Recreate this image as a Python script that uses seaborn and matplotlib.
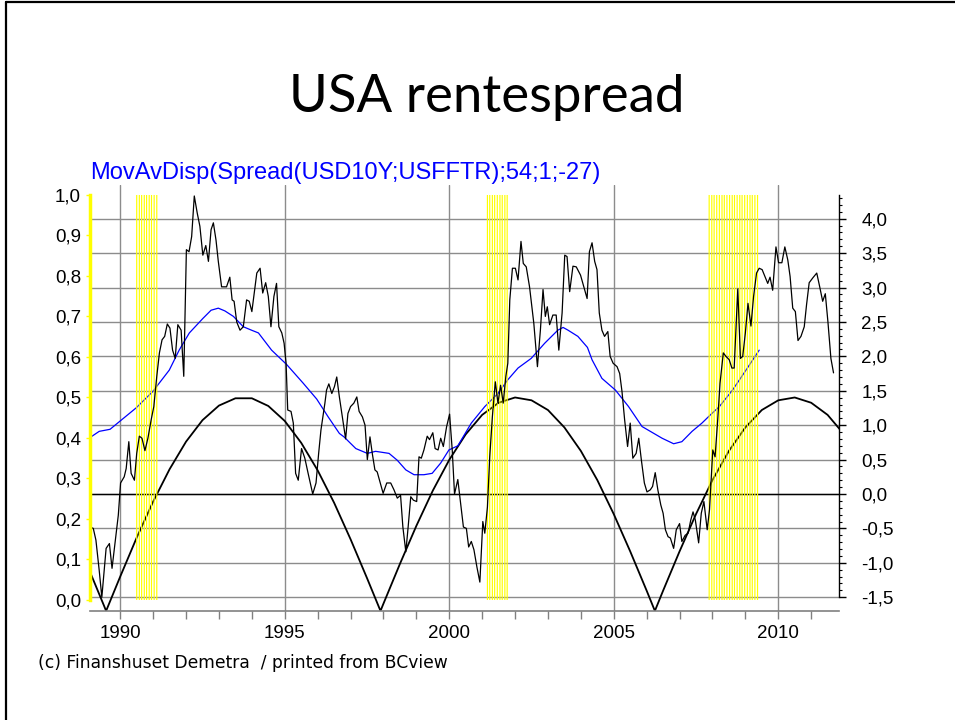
import matplotlib
matplotlib.use("Agg")
import matplotlib.pyplot as plt
import matplotlib.transforms as mtransforms
from matplotlib.lines import Line2D
from matplotlib.ticker import MultipleLocator, FixedLocator, FuncFormatter
import numpy as np
import pandas as pd
import seaborn as sns

# Rentespread (USD10Y - USFFTR), højre akse
spread_years = [
    1989.08, 1989.18, 1989.26, 1989.36, 1989.44, 1989.57, 1989.67, 1989.75, 1989.85, 1989.94,
    1990.01, 1990.12, 1990.18, 1990.26, 1990.33, 1990.43, 1990.50, 1990.58, 1990.66, 1990.75,
    1990.84, 1990.94, 1991.02, 1991.11, 1991.19, 1991.27, 1991.35, 1991.43, 1991.51, 1991.59,
    1991.67, 1991.75, 1991.85, 1991.93, 1992.01, 1992.09, 1992.17, 1992.25, 1992.34, 1992.42,
    1992.51, 1992.60, 1992.68, 1992.76, 1992.83, 1992.91, 1992.98, 1993.08, 1993.23, 1993.33,
    1993.40, 1993.46, 1993.54, 1993.64, 1993.74, 1993.84, 1993.92, 1994.00, 1994.15, 1994.25,
    1994.33, 1994.42, 1994.50, 1994.58, 1994.67, 1994.75, 1994.82, 1994.91, 1994.98, 1995.04,
    1995.09, 1995.19, 1995.26, 1995.33, 1995.41, 1995.51, 1995.61, 1995.71, 1995.85, 1995.95,
    1996.03, 1996.10, 1996.22, 1996.27, 1996.34, 1996.43, 1996.51, 1996.58, 1996.66, 1996.75,
    1996.85, 1996.92, 1997.00, 1997.10, 1997.19, 1997.26, 1997.36, 1997.44, 1997.51, 1997.59,
    1997.66, 1997.74, 1997.81, 1997.92, 1997.99, 1998.10, 1998.22, 1998.32, 1998.42, 1998.52,
    1998.59, 1998.68, 1998.75, 1998.83, 1998.91, 1999.01, 1999.08, 1999.15, 1999.23, 1999.33,
    1999.40, 1999.50, 1999.57, 1999.66, 1999.74, 1999.82, 1999.92, 2000.01, 2000.09, 2000.16,
    2000.26, 2000.35, 2000.43, 2000.52, 2000.59, 2000.67, 2000.75, 2000.84, 2000.93, 2001.02,
    2001.08, 2001.16, 2001.23, 2001.31, 2001.40, 2001.48, 2001.56, 2001.64, 2001.72, 2001.78,
    2001.84, 2001.92, 2002.01, 2002.09, 2002.18, 2002.25, 2002.34, 2002.44, 2002.57, 2002.68,
    2002.77, 2002.85, 2002.92, 2002.98, 2003.05, 2003.15, 2003.25, 2003.33, 2003.43, 2003.51,
    2003.58, 2003.66, 2003.76, 2003.86, 2003.99, 2004.09, 2004.19, 2004.26, 2004.34, 2004.42,
    2004.49, 2004.56, 2004.64, 2004.72, 2004.82, 2004.89, 2004.98, 2005.10, 2005.18, 2005.25,
    2005.33, 2005.42, 2005.50, 2005.58, 2005.68, 2005.76, 2005.84, 2005.93, 2006.01, 2006.11,
    2006.18, 2006.26, 2006.34, 2006.43, 2006.50, 2006.57, 2006.65, 2006.72, 2006.82, 2006.90,
    2007.00, 2007.07, 2007.17, 2007.26, 2007.34, 2007.41, 2007.48, 2007.58, 2007.66, 2007.74,
    2007.84, 2007.91, 2008.01, 2008.08, 2008.16, 2008.23, 2008.33, 2008.41, 2008.51, 2008.59,
    2008.66, 2008.77, 2008.85, 2008.92, 2009.00, 2009.08, 2009.17, 2009.25, 2009.34, 2009.42,
    2009.51, 2009.61, 2009.68, 2009.75, 2009.83, 2009.93, 2010.01, 2010.11, 2010.20, 2010.29,
    2010.36, 2010.44, 2010.52, 2010.60, 2010.69, 2010.79, 2010.86, 2010.94, 2011.05, 2011.17,
    2011.26, 2011.35, 2011.43, 2011.51, 2011.60, 2011.68,
]
spread_values = [
    -0.48, -0.50, -0.67, -1.11, -1.50, -0.79, -0.72, -1.08, -0.67, -0.31,
    0.16, 0.25, 0.37, 0.76, 0.30, 0.20, 0.59, 0.84, 0.81, 0.63,
    0.81, 1.08, 1.27, 1.71, 2.05, 2.24, 2.29, 2.47, 2.41, 2.09,
    1.97, 2.46, 2.38, 1.71, 3.55, 3.52, 3.74, 4.33, 4.08, 3.89,
    3.47, 3.61, 3.38, 3.84, 3.94, 3.69, 3.38, 3.01, 3.01, 3.15,
    2.82, 2.80, 2.50, 2.38, 2.43, 2.82, 2.80, 2.65, 3.21, 3.28,
    2.92, 3.07, 2.87, 2.43, 2.87, 3.06, 2.43, 2.34, 2.19, 1.90,
    1.22, 1.20, 1.03, 0.30, 0.20, 0.66, 0.52, 0.30, 0.00, 0.16,
    0.59, 0.93, 1.32, 1.51, 1.60, 1.46, 1.56, 1.70, 1.41, 1.12,
    0.80, 1.17, 1.27, 1.32, 1.41, 1.20, 1.12, 1.00, 0.50, 0.83,
    0.59, 0.35, 0.32, 0.13, 0.01, 0.16, 0.16, 0.06, -0.06, -0.02,
    -0.48, -0.84, -0.48, -0.04, -0.09, -0.11, 0.54, 0.52, 0.64, 0.84,
    0.79, 0.89, 0.66, 0.64, 0.81, 0.69, 0.98, 1.16, 0.64, 0.00,
    0.21, -0.16, -0.48, -0.50, -0.77, -0.69, -0.81, -1.06, -1.28, -0.40,
    -0.57, -0.19, 0.54, 1.12, 1.63, 1.32, 1.58, 1.32, 1.71, 1.90,
    2.82, 3.28, 3.28, 3.11, 3.67, 3.35, 3.30, 3.01, 2.48, 1.85,
    2.38, 2.97, 2.58, 2.72, 2.46, 2.60, 2.60, 2.09, 2.63, 3.47,
    3.45, 2.94, 3.31, 3.30, 3.18, 3.01, 2.84, 3.52, 3.65, 3.38,
    3.26, 2.63, 2.38, 2.29, 2.36, 2.00, 1.90, 1.85, 1.75, 1.49,
    1.08, 0.69, 1.03, 0.52, 0.59, 0.81, 0.49, 0.16, 0.03, 0.06,
    0.11, 0.31, 0.06, -0.16, -0.28, -0.52, -0.62, -0.64, -0.79, -0.52,
    -0.43, -0.69, -0.60, -0.57, -0.38, -0.26, -0.38, -0.71, -0.28, -0.11,
    -0.52, -0.23, 0.64, 0.54, 1.08, 1.61, 2.05, 2.00, 1.95, 1.83,
    1.83, 2.98, 1.97, 2.00, 2.34, 2.77, 2.44, 2.87, 3.21, 3.28,
    3.26, 3.14, 3.06, 3.15, 2.96, 3.59, 3.36, 3.36, 3.59, 3.40,
    3.16, 2.70, 2.65, 2.23, 2.29, 2.43, 2.75, 3.07, 3.14, 3.21,
    3.01, 2.80, 2.91, 2.50, 1.97, 1.76,
]

# MovAvDisp (blå), højre akse
ma_years = [
    1989.08, 1989.36, 1989.69, 1989.97, 1990.48, 1990.99, 1991.49, 1991.79, 1992.10, 1992.51,
    1992.76, 1992.98, 1993.18, 1993.44, 1993.74, 1993.99, 1994.20, 1994.60, 1995.06, 1995.56,
    1995.97, 1996.32, 1996.66, 1996.80, 1997.16, 1997.51, 1997.76, 1998.17, 1998.42, 1998.68,
    1998.93, 1999.23, 1999.48, 1999.74, 1999.99, 2000.26, 2000.67, 2001.08, 2001.48, 2001.78,
    2002.09, 2002.49, 2002.90, 2003.30, 2003.46, 2003.61, 2003.91, 2004.20, 2004.34, 2004.64,
    2005.05, 2005.45, 2005.86, 2006.47, 2006.82, 2007.07, 2007.38, 2007.68, 2007.96, 2008.21,
    2008.61, 2009.02, 2009.42,
]
ma_values = [
    0.82, 0.91, 0.94, 1.05, 1.25, 1.49, 1.80, 2.09, 2.34, 2.55,
    2.67, 2.70, 2.66, 2.58, 2.43, 2.38, 2.34, 2.09, 1.88, 1.61,
    1.38, 1.12, 0.88, 0.83, 0.66, 0.59, 0.62, 0.59, 0.49, 0.35,
    0.28, 0.28, 0.30, 0.45, 0.64, 0.70, 1.03, 1.27, 1.46, 1.66,
    1.83, 1.97, 2.19, 2.38, 2.42, 2.38, 2.29, 2.13, 1.95, 1.68,
    1.51, 1.27, 0.98, 0.81, 0.73, 0.76, 0.91, 1.03, 1.16, 1.27,
    1.51, 1.80, 2.09,
]

# Cyklus (sort bue), venstre akse
cycle_years = [
    1989.0, 1989.5, 1989.57, 1990.0, 1990.5, 1991.0, 1991.5, 1992.0, 1992.5, 1993.0,
    1993.5, 1994.0, 1994.5, 1995.0, 1995.5, 1996.0, 1996.5, 1997.0, 1997.5, 1997.91,
    1998.0, 1998.5, 1999.0, 1999.5, 2000.0, 2000.5, 2001.0, 2001.5, 2002.0, 2002.5,
    2003.0, 2003.5, 2004.0, 2004.5, 2005.0, 2005.5, 2006.0, 2006.25, 2006.5, 2007.0,
    2007.5, 2008.0, 2008.5, 2009.0, 2009.5, 2010.0, 2010.5, 2011.0, 2011.5, 2012.0,
]
cycle_values = [
    0.085, -0.013, -0.027, 0.058, 0.154, 0.243, 0.323, 0.391, 0.444, 0.480,
    0.498, 0.498, 0.479, 0.442, 0.388, 0.320, 0.240, 0.150, 0.054, -0.027,
    -0.009, 0.089, 0.183, 0.270, 0.346, 0.409, 0.457, 0.487, 0.500, 0.493,
    0.469, 0.426, 0.368, 0.296, 0.212, 0.120, 0.023, -0.027, 0.023, 0.120,
    0.212, 0.296, 0.368, 0.426, 0.469, 0.493, 0.500, 0.487, 0.457, 0.409,
]

# Recessionsmåneder (gule streger)
recession_months = [
    1990.50, 1990.58, 1990.65, 1990.73, 1990.80, 1990.88, 1990.95, 1991.03, 1991.11,
    2001.16, 2001.23, 2001.31, 2001.38, 2001.46, 2001.54, 2001.61, 2001.69, 2001.76,
    2007.90, 2007.98, 2008.05, 2008.13, 2008.21, 2008.29, 2008.36, 2008.44, 2008.52,
    2008.60, 2008.67, 2008.75, 2008.83, 2008.90, 2008.98, 2009.06, 2009.14, 2009.21,
    2009.29, 2009.37,
]

sns.set_theme(style="white")
plt.rcParams['font.family'] = ['Liberation Sans', 'DejaVu Sans']

fig = plt.figure(figsize=(9.55, 7.2), dpi=100)
ax = fig.add_axes([0.0942, 0.1514, 0.7846, 0.5917])
axl = ax.twinx()

# akser
ax.set_xlim(1989.079, 2011.854)
ax.set_ylim(-1.70, 4.49)
axl.set_ylim(-0.0272, 1.0247)

left_trans = mtransforms.blended_transform_factory(ax.transData, axl.transData)

# cyklus og glidende gennemsnit under de gule streger
sns.lineplot(x=cycle_years, y=cycle_values, ax=ax, color='black', lw=1.3,
             estimator=None, sort=False, zorder=2, transform=left_trans)
sns.lineplot(x=ma_years, y=ma_values, ax=ax, color='#0000ff', lw=0.9,
             estimator=None, sort=False, zorder=2)
ax.vlines(recession_months, 0, 1, colors='#ffff00', lw=0.85, zorder=3,
          transform=left_trans, snap=False)
df_spread = pd.DataFrame({'år': spread_years, 'spread': spread_values})
sns.lineplot(data=df_spread, x='år', y='spread', ax=ax, color='black', lw=0.9,
             estimator=None, sort=False, zorder=4)

ax.set_xlim(1989.079, 2011.854)
ax.set_ylim(-1.70, 4.49)
ax.set_xlabel('')
ax.set_ylabel('')

comma = FuncFormatter(lambda v, _: f"{v:.1f}".replace('.', ',').replace('-0,0', '0,0'))

# højre akse (grid)
ax.yaxis.tick_right()
ax.yaxis.set_major_locator(MultipleLocator(0.5))
ax.yaxis.set_minor_locator(FixedLocator(np.round(np.arange(-1.5, 4.36, 0.1), 1)))
ax.yaxis.set_major_formatter(comma)
ax.tick_params(axis='y', which='major', right=True, left=False, labelright=True,
               labelleft=False, length=5, width=1, color='black', pad=11,
               labelsize=13.5, labelcolor='black')
ax.tick_params(axis='y', which='minor', right=True, left=False, length=2.5,
               width=0.8, color='black')
ax.xaxis.set_major_locator(MultipleLocator(5))
ax.xaxis.set_minor_locator(MultipleLocator(1))
ax.xaxis.set_major_formatter(FuncFormatter(lambda v, _: f"{v:.0f}"))
ax.tick_params(axis='x', which='both', bottom=True, direction='out', length=6,
               width=1, color='#808080', pad=4, labelsize=13.5, labelcolor='black')
ax.set_axisbelow(True)
ax.grid(axis='y', which='major', color='#8c8c8c', lw=1.0)
ax.grid(axis='x', which='major', color='#8c8c8c', lw=1.0)
ax.axhline(0, color='black', lw=1.0, zorder=1.5)

for side in ['top', 'left']:
    ax.spines[side].set_visible(False)
ax.spines['right'].set_color('black')
ax.spines['right'].set_linewidth(1.0)
ax.spines['right'].set_bounds(-1.5, 4.35)
ax.spines['bottom'].set_color('#808080')
ax.spines['bottom'].set_linewidth(1.2)

# venstre akse (gul)
axl.yaxis.tick_left()
axl.yaxis.set_major_locator(FixedLocator(np.round(np.arange(0, 1.01, 0.1), 1)))
axl.yaxis.set_major_formatter(comma)
axl.tick_params(axis='y', left=True, right=False, labelleft=True, labelright=False,
                length=3, width=1, color='#ffff00', pad=3.5, labelsize=13.5,
                labelcolor='black')
for side in ['top', 'right', 'bottom']:
    axl.spines[side].set_visible(False)
axl.spines['left'].set_color('#ffff00')
axl.spines['left'].set_linewidth(2.5)
axl.spines['left'].set_bounds(0, 1)
axl.set_ylabel('')

# tekster
fig.text(0.51, 0.864, "USA rentespread", ha='center', va='center', fontsize=38,
         family=['Lato', 'DejaVu Sans'], color='black')
fig.text(0.0942, 1 - 173 / 720, "MovAvDisp(Spread(USD10Y;USFFTR);54;1;-27)",
         ha='left', va='center', fontsize=17, color='#0000ff')
fig.text(38 / 955, 1 - 663 / 720, "(c) Finanshuset Demetra  / printed from BCview",
         ha='left', va='center', fontsize=12.3, family=['DejaVu Sans'], color='black')

# slide-ramme
fig.add_artist(Line2D([6 / 955, 6 / 955], [0, 1 - 2 / 720], transform=fig.transFigure,
                      color='black', lw=1.6))
fig.add_artist(Line2D([6 / 955, 1], [1 - 2 / 720, 1 - 2 / 720], transform=fig.transFigure,
                      color='black', lw=1.6))

fig.savefig('out.png', dpi=100)
